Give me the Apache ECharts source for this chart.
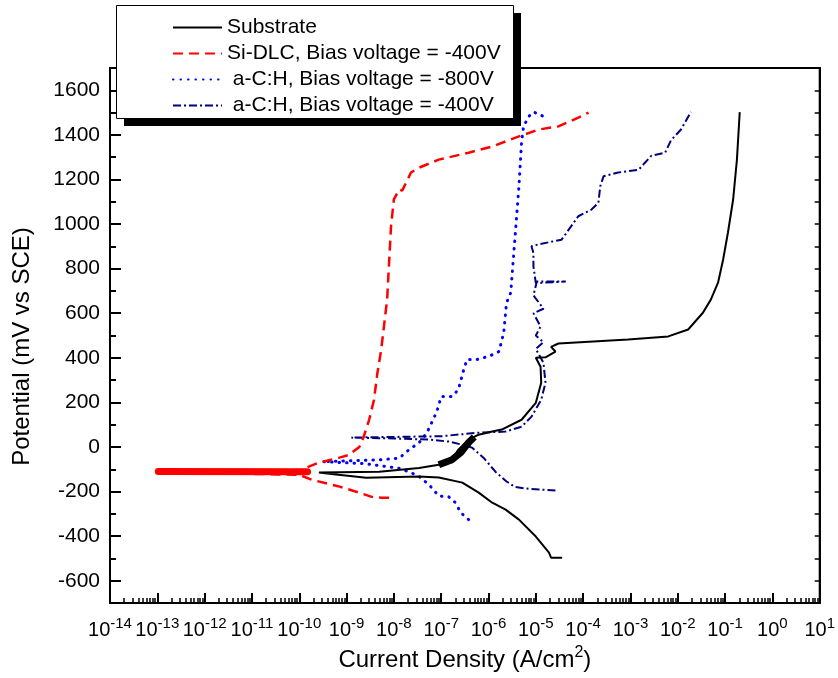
<!DOCTYPE html>
<html>
<head>
<meta charset="utf-8">
<script src="https://cdn.jsdelivr.net/npm/echarts@6.0.0/dist/echarts.min.js"></script>
<style>
  html, body { margin: 0; padding: 0; background: #fff; }
  #chart { width: 838px; height: 678px; }
</style>
</head>
<body>
<div id="chart"></div>
<script>
// [current density A/cm2, potential mV]
var substrate = [
    [3.6e-5, -497], [2.1e-5, -497], [1.9e-5, -474], [1.0e-5, -402], [4.4e-6, -326],
    [2.3e-6, -281], [1.2e-6, -250], [6.2e-7, -205], [2.8e-7, -160], [8.9e-8, -137],
    [3.4e-8, -133], [2.6e-9, -138], [4.3e-10, -120], [2.6e-10, -115], [4.9e-9, -111],
    [3.4e-8, -94], [8.9e-8, -80], [1.7e-7, -57], [2.3e-7, -12], [3.8e-7, 33],
    [6.2e-7, 55], [1.2e-6, 69], [1.9e-6, 78], [5.0e-6, 122], [1.0e-5, 198], [1.3e-5, 288],
    [1.26e-5, 360], [1.0e-5, 400], [1.6e-5, 402], [2.6e-5, 428], [2.1e-5, 449],
    [3.0e-5, 464], [8.9e-4, 482], [6.3e-3, 496], [1.66e-2, 527], [3.4e-2, 602],
    [5.0e-2, 661], [7.1e-2, 737], [9.1e-2, 841], [0.115, 962], [0.148, 1110],
    [0.178, 1289], [0.204, 1502]
];
var substrateBlob = [[8.9e-8, -80], [1.7e-7, -57], [2.6e-7, -25], [3.8e-7, 20], [5.0e-7, 45]];

var siDlc = [
    [7.9e-9, -228], [5.6e-9, -228], [3.3e-9, -223], [1.86e-9, -205], [7.1e-10, -178],
    [1.9e-10, -148], [1.0e-10, -125], [1.05e-13, -112], [1.0e-10, -105], [2.6e-10, -70],
    [7.1e-10, -48], [1.15e-9, -35], [1.3e-9, -25], [1.86e-9, 0], [2.3e-9, 46],
    [3.0e-9, 122], [3.8e-9, 212], [4.5e-9, 334], [5.4e-9, 437], [7.2e-9, 662],
    [8.7e-9, 990], [1.0e-8, 1111], [1.3e-8, 1156], [1.5e-8, 1150], [2.3e-8, 1231],
    [3.4e-8, 1253], [8.9e-8, 1289], [3.8e-7, 1320], [1.2e-6, 1348], [4.4e-6, 1393],
    [1.15e-5, 1424], [3.0e-5, 1438], [7.9e-5, 1477], [1.3e-4, 1500]
];
var siDlcBand = [[1.05e-13, -110], [1.5e-10, -111]];

var ach800 = [
    [3.8e-7, -326], [2.6e-7, -295], [2.0e-7, -250], [1.45e-7, -224], [8.9e-8, -220],
    [6.0e-8, -178], [3.7e-8, -137], [2.3e-8, -115], [1.26e-8, -95], [2.5e-9, -75],
    [3.1e-10, -66], [8.9e-10, -63], [4.9e-9, -58], [1.3e-8, -50], [2.1e-8, -12],
    [3.4e-8, 19], [5.0e-8, 64], [8.1e-8, 159], [1.0e-7, 226], [1.7e-7, 226],
    [2.3e-7, 257], [3.0e-7, 347], [3.5e-7, 392], [5.6e-7, 392], [1.0e-6, 406],
    [1.66e-6, 428], [2.1e-6, 513], [2.4e-6, 646], [2.95e-6, 692], [3.7e-6, 962],
    [4.4e-6, 1169], [5.0e-6, 1366], [5.5e-6, 1438], [7.1e-6, 1483], [8.9e-6, 1503],
    [1.45e-5, 1483]
];

var ach400 = [
    [2.6e-5, -195], [7.1e-6, -188], [3.7e-6, -180], [2.4e-6, -155], [1.4e-6, -111],
    [7.9e-7, -49], [4.5e-7, -3], [2.8e-7, 10], [1.45e-7, 24], [5.5e-8, 33],
    [1e-8, 38], [1.26e-9, 42], [1e-8, 45], [1e-7, 48], [6.2e-7, 64],
    [2.3e-6, 69], [5.0e-6, 91], [8.1e-6, 136], [1.3e-5, 212], [1.6e-5, 288],
    [1.45e-5, 377], [1.0e-5, 440], [1.45e-5, 470], [1.0e-5, 500], [1.26e-5, 540],
    [8.9e-6, 600], [1.45e-5, 620], [8.9e-6, 680], [1.05e-5, 742], [4.3e-5, 742],
    [1.0e-5, 735], [8.9e-6, 810], [8.9e-6, 870], [8.1e-6, 900], [1.15e-5, 909],
    [3.5e-5, 930], [4.5e-5, 962], [7.9e-5, 1035], [1.5e-4, 1065], [2.1e-4, 1095],
    [2.3e-4, 1169], [2.7e-4, 1214], [5.5e-4, 1231], [1.5e-3, 1244], [2.0e-3, 1274],
    [2.75e-3, 1306], [5.4e-3, 1320], [7.2e-3, 1376], [1.17e-2, 1424], [1.9e-2, 1503]
];

var names = [
    'Substrate',
    'Si-DLC, Bias voltage = -400V',
    ' a-C:H, Bias voltage = -800V',
    ' a-C:H, Bias voltage = -400V'
];

// ticks
var xTickExp = [-14, -13, -12, -11, -10, -9, -8, -7, -6, -5, -4, -3, -2, -1, 0, 1];
var yTicks = [-600, -400, -200, 0, 200, 400, 600, 800, 1000, 1200, 1400, 1600];
var yMinorTicks = [-500, -300, -100, 100, 300, 500, 700, 900, 1100, 1300, 1500];

var xMajor = xTickExp.map(function (e) { return Math.pow(10, e); });
var xMinor = [];
for (var i = 0; i < xTickExp.length - 1; i++) {
    for (var k = 2; k <= 9; k++) xMinor.push(k * Math.pow(10, xTickExp[i]));
}
var yAll = yTicks.concat(yMinorTicks);

var font = 'Liberation Sans, Arial, sans-serif';

var myChart = echarts.init(document.getElementById('chart'));

var option = {
    animation: false,
    backgroundColor: '#fff',
    grid: {
        left: 110, right: 16, top: 68, bottom: 75,
        show: true, borderColor: '#000', borderWidth: 2
    },
    // legend frame with its hard shadow
    graphic: [
        { type: 'rect', z: 10, shape: { x: 124, y: 13, width: 397, height: 113 }, style: { fill: '#000' } },
        { type: 'rect', z: 11, shape: { x: 116.5, y: 5.5, width: 397, height: 113 }, style: { fill: '#fff', stroke: '#000', lineWidth: 1 } }
    ],
    legend: {
        orient: 'vertical',
        left: 172, top: 17, padding: 0, z: 20,
        itemGap: 5, itemWidth: 49, itemHeight: 14,
        selectedMode: false,
        itemStyle: { opacity: 0 },
        data: names,
        textStyle: { fontSize: 21, lineHeight: 21, fontFamily: font, color: '#000' }
    },
    xAxis: [
        {
            type: 'log', logBase: 10, min: 1e-14, max: 10,
            name: '{a|Current Density (A/cm}{s|2}{a|)}',
            nameLocation: 'middle', nameGap: 42,
            nameTextStyle: {
                rich: {
                    a: { fontSize: 24, fontFamily: font, color: '#000', verticalAlign: 'bottom' },
                    s: { fontSize: 16, fontFamily: font, color: '#000', verticalAlign: 'bottom', padding: [0, 0, 11, 0] }
                }
            },
            axisLine: { onZero: false, lineStyle: { color: '#000', width: 2 } },
            axisTick: { inside: true, length: 10, customValues: xMajor, lineStyle: { color: '#000', width: 2 } },
            axisLabel: {
                customValues: xMajor, margin: 13,
                formatter: function (v) {
                    return '{b|10}{s|' + Math.round(Math.log10(v)) + '}';
                },
                rich: {
                    b: { fontSize: 20, fontFamily: font, color: '#000', verticalAlign: 'bottom' },
                    s: { fontSize: 15, fontFamily: font, color: '#000', verticalAlign: 'bottom', padding: [0, 0, 9, 0] }
                }
            },
            splitLine: { show: false }
        },
        {
            // minor ticks
            type: 'log', logBase: 10, min: 1e-14, max: 10, position: 'bottom',
            axisLine: { show: false, onZero: false },
            axisTick: { inside: true, length: 5, customValues: xMinor, lineStyle: { color: '#000', width: 1.5 } },
            axisLabel: { show: false },
            splitLine: { show: false }
        }
    ],
    yAxis: [
        {
            type: 'value', min: -700, max: 1700,
            name: 'Potential (mV vs SCE)',
            nameLocation: 'middle', nameGap: 76,
            nameTextStyle: { fontSize: 24, fontFamily: font, color: '#000', padding: [0, 0, 0, -22] },
            axisLine: { lineStyle: { color: '#000', width: 2 } },
            axisTick: { inside: true, length: 11, customValues: yTicks, lineStyle: { color: '#000', width: 2 } },
            axisLabel: {
                customValues: yTicks, margin: 10, fontSize: 21, fontFamily: font, color: '#000',
                formatter: function (v) { return String(v); }
            },
            splitLine: { show: false }
        },
        {
            type: 'value', min: -700, max: 1700, position: 'left',
            axisLine: { show: false },
            axisTick: { inside: true, length: 6, customValues: yMinorTicks, lineStyle: { color: '#000', width: 2 } },
            axisLabel: { show: false },
            splitLine: { show: false }
        },
        {
            type: 'value', min: -700, max: 1700, position: 'right',
            axisLine: { show: true, lineStyle: { color: '#000', width: 2 } },
            axisTick: { inside: true, length: 5, customValues: yAll, lineStyle: { color: '#000', width: 1.5 } },
            axisLabel: { show: false },
            splitLine: { show: false }
        }
    ],
    series: [
        {
            name: names[0], type: 'line', data: substrate, color: '#000',
            symbol: 'none', showSymbol: false, z: 4,
            lineStyle: { color: '#000', width: 2 }
        },
        {
            name: names[0], type: 'line', data: substrateBlob, color: '#000',
            symbol: 'none', showSymbol: false, z: 4,
            lineStyle: { color: '#000', width: 7 }
        },
        {
            name: names[1], type: 'line', data: siDlc, color: '#ff0000',
            symbol: 'none', showSymbol: false, z: 5,
            lineStyle: { color: '#ff0000', width: 2.5, type: [10, 6] }
        },
        {
            name: names[1], type: 'line', data: siDlcBand, color: '#ff0000',
            symbol: 'none', showSymbol: false, z: 5,
            lineStyle: { color: '#ff0000', width: 7, cap: 'round' }
        },
        {
            name: names[2], type: 'line', data: ach800, color: '#0000ff',
            symbol: 'none', showSymbol: false, z: 3,
            lineStyle: { color: '#0000ff', width: 3, type: [0.5, 7], cap: 'round' }
        },
        {
            name: names[3], type: 'line', data: ach400, color: '#000080',
            symbol: 'none', showSymbol: false, z: 3,
            lineStyle: { color: '#000080', width: 2, type: [8, 3, 2, 3] }
        }
    ]
};
myChart.setOption(option);
</script>
</body>
</html>
